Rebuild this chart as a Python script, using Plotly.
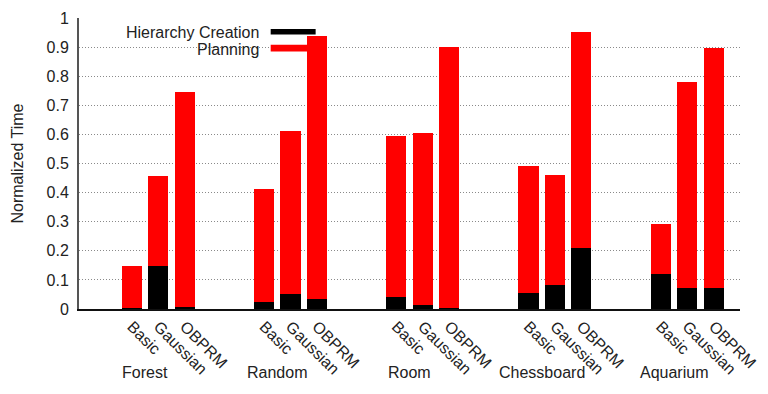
import plotly.graph_objects as go

environments = ["Forest", "Random", "Room", "Chessboard", "Aquarium"]
methods = ["Basic", "Gaussian", "OBPRM"]

# Hierarchy creation time (black, bottom), per environment, per method
hierarchy = [
    [0.005, 0.149, 0.006],
    [0.024, 0.052, 0.033],
    [0.042, 0.015, 0.005],
    [0.056, 0.082, 0.211],
    [0.121, 0.073, 0.073],
]
# Total normalized time (top of stacked bar)
total = [
    [0.149, 0.458, 0.745],
    [0.412, 0.612, 0.937],
    [0.595, 0.604, 0.901],
    [0.491, 0.460, 0.951],
    [0.291, 0.781, 0.898],
]
planning = [[t - h for t, h in zip(tr, hr)] for tr, hr in zip(total, hierarchy)]

GROUP_STRIDE = 5
xs, hx, px, labels = [], [], [], []
for g, env in enumerate(environments):
    for k, m in enumerate(methods):
        xs.append(g * GROUP_STRIDE + k)
        hx.append(hierarchy[g][k])
        px.append(planning[g][k])
        labels.append(m)

FONT = "Liberation Sans, Arial, sans-serif"
TXT = "#222222"
FS = 16

fig = go.Figure()
fig.add_trace(go.Bar(x=xs, y=hx, name="Hierarchy Creation", width=0.76,
                     marker=dict(color="#000000", line=dict(width=0))))
fig.add_trace(go.Bar(x=xs, y=px, name="Planning", width=0.76,
                     marker=dict(color="#ff0000", line=dict(width=0))))

annotations = []
for g, env in enumerate(environments):
    annotations.append(dict(x=g * GROUP_STRIDE + 0.5, y=-0.218, xref="x", yref="paper",
                            text=env, showarrow=False, xanchor="center", yanchor="middle",
                            font=dict(family=FONT, size=FS, color=TXT)))
# legend text (gnuplot style: right-aligned text, sample at right)
annotations.append(dict(x=0.275, y=0.950, xref="paper", yref="paper", text="Hierarchy Creation",
                        showarrow=False, xanchor="right", yanchor="middle",
                        font=dict(family=FONT, size=FS, color=TXT)))
annotations.append(dict(x=0.275, y=0.893, xref="paper", yref="paper", text="Planning",
                        showarrow=False, xanchor="right", yanchor="middle",
                        font=dict(family=FONT, size=FS, color=TXT)))

shapes = [
    # key box blanking gridlines
    dict(type="rect", xref="paper", yref="paper", x0=0.012, x1=0.38, y0=0.649, y1=0.985,
         fillcolor="white", line=dict(width=0), layer="between"),
    dict(type="rect", xref="paper", yref="paper", x0=0.290, x1=0.358, y0=0.943, y1=0.962,
         fillcolor="#000000", line=dict(width=0), layer="above"),
    dict(type="rect", xref="paper", yref="paper", x0=0.290, x1=0.358, y0=0.885, y1=0.908,
         fillcolor="#ff0000", line=dict(width=0), layer="above"),
]

fig.update_layout(
    width=768, height=394,
    margin=dict(l=71, r=36, t=10, b=93, autoexpand=False),
    barmode="stack",
    bargap=0,
    showlegend=False,
    plot_bgcolor="white", paper_bgcolor="white",
    font=dict(family=FONT, size=FS, color=TXT),
    annotations=annotations,
    shapes=shapes,
)
fig.update_xaxes(
    range=[-2, 23], tickvals=xs, ticktext=labels, tickangle=45, automargin=False,
    showgrid=False, zeroline=False, showline=True, linecolor="#111111", linewidth=2,
    ticks="", ticklabelstandoff=0, tickfont=dict(family=FONT, size=FS, color=TXT),
)
fig.update_yaxes(
    range=[0, 1], dtick=0.1, tick0=0, automargin=False,
    showgrid=True, gridcolor="#8a8a8a", gridwidth=1, griddash="1px,2px",
    zeroline=False, showline=True, linecolor="#555555", linewidth=2,
    ticks="", ticklabelstandoff=5,
    tickfont=dict(family=FONT, size=FS, color=TXT),
    title=dict(text="Normalized Time", standoff=19, font=dict(family=FONT, size=FS, color=TXT)),
)

fig.write_html("out.html")
